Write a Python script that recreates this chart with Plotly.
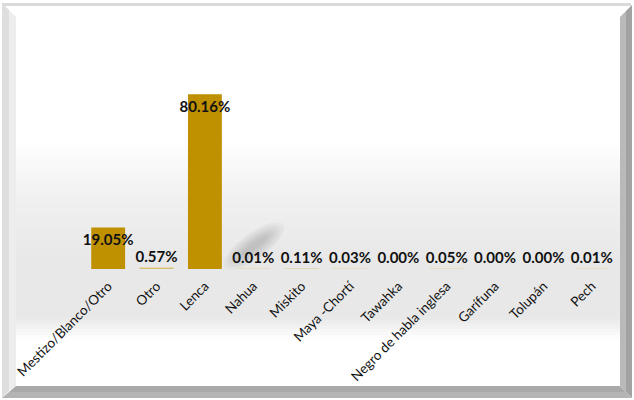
import math
import plotly.graph_objects as go

categories = ["Mestizo/Blanco/Otro", "Otro", "Lenca", "Nahua", "Miskito", "Maya -Chortí",
              "Tawahka", "Negro de habla inglesa", "Garífuna", "Tolupán", "Pech"]
values = [19.05, 0.57, 80.16, 0.01, 0.11, 0.03, 0.00, 0.05, 0.00, 0.00, 0.01]

W, H = 634, 400
ML, MR, MT, MB = 84, 18, 51, 131
PW, PH = W - ML - MR, H - MT - MB


def px(x):
    return (x - ML) / PW


def py(y):
    return (H - MB - y) / PH


BAR = "#BF9000"

text_pos = ["inside" if v > 10 else "outside" for v in values]
line_cols = ["#E6D9B8" if 0 < v < 1 else "rgba(0,0,0,0)" for v in values]

fig = go.Figure(go.Bar(
    x=categories, y=values,
    marker=dict(color=BAR, line=dict(color=line_cols, width=1)),
    width=0.7,
    texttemplate="%{y:.2f}%",
    textposition=text_pos,
    textangle=0,
    insidetextanchor="end",
    constraintext="none",
    cliponaxis=False,
    textfont=dict(family="Lato, Calibri, sans-serif", size=15, color="#111111", weight="bold"),
    hoverinfo="skip",
))

shapes = []

# background vertical gradient
stops = [(5, 255), (140, 255), (200, 240), (260, 232), (318, 232), (338, 254), (345, 255), (386, 255)]


def grey(yv):
    for (y0, g0), (y1, g1) in zip(stops[:-1], stops[1:]):
        if y0 <= yv <= y1:
            return g0 + (g1 - g0) * (yv - y0) / (y1 - y0)
    return 255


y = 5
step = 3
while y < 386:
    g = int(round(grey(y + step / 2)))
    shapes.append(dict(type="rect", xref="paper", yref="paper", layer="below",
                       x0=px(2), x1=px(631), y0=py(y), y1=py(min(y + step, 386)),
                       fillcolor=f"rgb({g},{g},{g})", line=dict(width=0)))
    y += step


def poly(pts, color):
    d = "M " + " L ".join(f"{px(a):.5f},{py(b):.5f}" for a, b in pts) + " Z"
    shapes.append(dict(type="path", xref="paper", yref="paper", layer="below",
                       path=d, fillcolor=color, line=dict(width=0)))


# frame bevels
poly([(2, 3), (631, 3), (631, 6), (2, 6)], "#DADADA")  # top
poly([(2, 3), (9, 10), (9, 391), (2, 398)], "#DEDEDE")  # left outer
poly([(9, 10), (16, 17), (16, 386), (9, 391)], "#EDEDED")  # left inner
poly([(620, 17), (626, 11), (626, 392), (620, 386)], "#B9B9B9")  # right inner
poly([(626, 11), (632, 5), (632, 398), (626, 392)], "#A2A2A2")  # right outer
poly([(16, 386), (620, 386), (626, 392), (9, 392)], "#A9A9A9")  # bottom inner
poly([(9, 392), (626, 392), (632, 398), (2, 398)], "#B4B4B4")  # bottom outer

# soft diffuse shadow cast by the tall bar
cx, cy, ang = 254, 246, math.radians(-36)
for k in range(6):
    a = 36 - 4 * k
    b = 13 - 2 * k
    pts = []
    for i in range(36):
        t = 2 * math.pi * i / 36
        ex, ey = a * math.cos(t), b * math.sin(t)
        pts.append((cx + ex * math.cos(ang) - ey * math.sin(ang),
                    cy + ex * math.sin(ang) + ey * math.cos(ang)))
    poly(pts, "rgba(60,60,60,0.045)")

fig.update_layout(
    width=W, height=H,
    margin=dict(l=ML, r=MR, t=MT, b=MB, autoexpand=False),
    paper_bgcolor="white",
    plot_bgcolor="rgba(0,0,0,0)",
    shapes=shapes,
    showlegend=False,
    bargap=0.3,
    xaxis=dict(
        tickangle=-45,
        automargin=False,
        tickfont=dict(family="Lato, Calibri, sans-serif", size=13.5, color="#111111"),
        showgrid=False, zeroline=False, showline=False,
        ticks="outside", ticklen=3, tickcolor="rgba(0,0,0,0)",
        fixedrange=True,
    ),
    yaxis=dict(range=[0, 100], visible=False, fixedrange=True, automargin=False),
)

fig.write_html("out.html", config={"displayModeBar": False},
               post_script="document.body.style.margin='0';document.body.style.overflow='hidden';")
